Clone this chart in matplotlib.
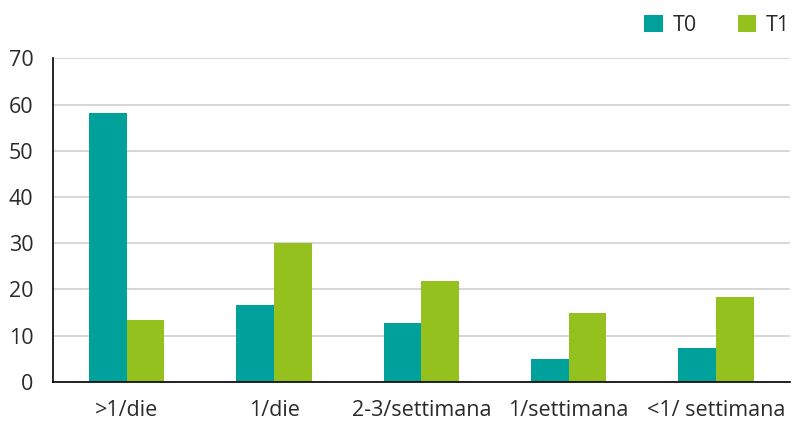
import matplotlib.pyplot as plt
import numpy as np

plt.rcParams['font.family'] = ['Open Sans', 'DejaVu Sans']

categories = ['>1/die', '1/die', '2-3/settimana', '1/settimana', '<1/ settimana']
t0 = [58.2, 16.6, 12.7, 4.9, 7.3]
t1 = [13.3, 30.0, 21.8, 14.9, 18.3]

c_t0 = '#00A19A'
c_t1 = '#95C11F'

fig = plt.figure(figsize=(7.92, 4.23), dpi=100)
ax = fig.add_axes([0.067, 0.0976, 0.930, 0.7644])

x = np.arange(len(categories))
w = 0.255
ax.bar(x - w/2, t0, w, color=c_t0, label='T0', zorder=3)
ax.bar(x + w/2, t1, w, color=c_t1, label='T1', zorder=3)

ax.set_xlim(-0.5, len(categories) - 0.5)
ax.set_ylim(0, 70)
ax.set_yticks(range(0, 71, 10))
ax.set_xticks(x)
ax.set_xticklabels(categories)
ax.tick_params(axis='both', length=0, labelsize=15.5, colors='#2a2a2a')
ax.tick_params(axis='x', pad=13)
ax.tick_params(axis='y', pad=14)
ax.grid(axis='y', color='#d0d0d0', linewidth=1.2, zorder=0)

for side in ['top', 'right']:
    ax.spines[side].set_visible(False)
for side in ['left', 'bottom']:
    ax.spines[side].set_color('black')
    ax.spines[side].set_linewidth(1.2)
    ax.spines[side].set_zorder(4)

handles, labels = ax.get_legend_handles_labels()
leg = fig.legend(handles, labels, loc='center right', bbox_to_anchor=(0.997, 0.939),
                 ncol=2, frameon=False, fontsize=15.5, borderpad=0, borderaxespad=0,
                 handlelength=0.85, handleheight=0.85,
                 columnspacing=1.9, handletextpad=0.45)
for t in leg.get_texts():
    t.set_color('#2a2a2a')

fig.savefig('out.png', dpi=100)
